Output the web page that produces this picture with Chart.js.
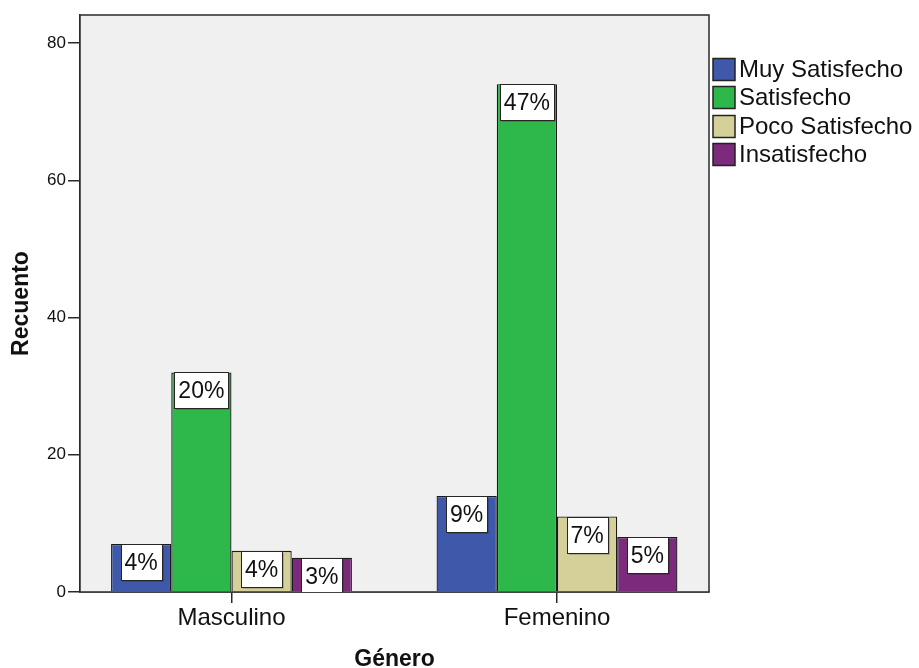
<!DOCTYPE html>
<html>
<head>
<meta charset="utf-8">
<title>Recuento por Género</title>
<script src="https://cdn.jsdelivr.net/npm/chart.js@4/dist/chart.umd.min.js"></script>
<style>
  html, body { margin: 0; padding: 0; background: #ffffff; }
  #wrap { width: 919px; height: 668px; }
</style>
</head>
<body>
<div id="wrap"><canvas id="chart" width="919" height="668"></canvas></div>
<script>
// Categories (x axis) and series
const categories = ['Masculino', 'Femenino'];
const seriesNames = ['Muy Satisfecho', 'Satisfecho', 'Poco Satisfecho', 'Insatisfecho'];

// Counts per category, one array per series
const muySatisfecho  = [7, 14];
const satisfecho     = [32, 74];
const pocoSatisfecho = [6, 11];
const insatisfecho   = [5, 8];

const seriesColors = ['#3f58aa', '#2eb84b', '#d5d09a', '#7c2a7b'];

// Value axis
const yMax = 84.1;
const yStep = 20;

const seriesValues = [muySatisfecho, satisfecho, pocoSatisfecho, insatisfecho];
const grandTotal = seriesValues.flat().reduce((a, b) => a + b, 0);

const FAMILY = "'Liberation Sans', Arial, Helvetica, sans-serif";
const INK = '#111111';
const AXIS = '#2a2a2a';

// Grey plot background and the frame around it
const plotFrame = {
  id: 'plotFrame',
  beforeDatasetsDraw(chart) {
    const { ctx, chartArea: a } = chart;
    ctx.save();
    ctx.fillStyle = '#f0f0f0';
    ctx.fillRect(a.left, a.top, a.right - a.left, a.bottom - a.top);
    ctx.restore();
  },
  afterDatasetsDraw(chart) {
    const { ctx, chartArea: a } = chart;
    ctx.save();
    ctx.strokeStyle = AXIS;
    ctx.lineWidth = 1.5;
    ctx.strokeRect(a.left, a.top, a.right - a.left, a.bottom - a.top);
    ctx.restore();
  }
};

// Percentage-of-total boxes at the top of each bar
const valueLabels = {
  id: 'valueLabels',
  afterDatasetsDraw(chart) {
    const { ctx, chartArea: a } = chart;
    ctx.save();
    ctx.beginPath();
    ctx.rect(a.left, a.top, a.right - a.left, a.bottom - a.top);
    ctx.clip();
    ctx.font = '23px ' + FAMILY;
    ctx.textAlign = 'center';
    ctx.textBaseline = 'middle';
    chart.data.datasets.forEach((ds, i) => {
      chart.getDatasetMeta(i).data.forEach((el, j) => {
        const value = seriesValues[i][j];
        const text = Math.round(value / grandTotal * 100) + '%';
        const w = Math.round(ctx.measureText(text).width + 8);
        const h = 36;
        const x0 = Math.round(el.x - w / 2) + 0.5;
        const y0 = Math.round(el.y) + 0.5;
        // faint drop shadow
        ctx.fillStyle = 'rgba(0,0,0,0.18)';
        ctx.fillRect(x0 + 1.5, y0 + 1.5, w, h);
        ctx.fillStyle = '#ffffff';
        ctx.fillRect(x0, y0, w, h);
        ctx.strokeStyle = '#262626';
        ctx.lineWidth = 1;
        ctx.strokeRect(x0, y0, w, h);
        ctx.fillStyle = INK;
        ctx.fillText(text, el.x, y0 + h / 2 + 1);
      });
    });
    ctx.restore();
  }
};

// Legend to the right of the plot
const sideLegend = {
  id: 'sideLegend',
  afterDraw(chart) {
    const { ctx, chartArea: a } = chart;
    const x = a.right + 4;
    const top = a.top + 43;
    const step = 28.3;
    const box = 22;
    ctx.save();
    ctx.font = '24px ' + FAMILY;
    ctx.textAlign = 'left';
    ctx.textBaseline = 'middle';
    chart.data.datasets.forEach((ds, i) => {
      const y = Math.round(top + i * step) + 0.5;
      ctx.fillStyle = ds.backgroundColor;
      ctx.fillRect(x, y, box, box);
      ctx.strokeStyle = '#222222';
      ctx.lineWidth = 1.5;
      ctx.strokeRect(x, y, box, box);
      ctx.fillStyle = INK;
      ctx.fillText(ds.label, x + box + 4, y + box / 2 + 1);
    });
    ctx.restore();
  }
};

new Chart(document.getElementById('chart'), {
  type: 'bar',
  data: {
    datasets: seriesNames.map((name, i) => ({
      label: name,
      data: seriesValues[i].map((v, j) => ({ x: j, y: v })),
      backgroundColor: seriesColors[i],
      borderColor: '#1a1a1a',
      borderWidth: 1.3,
      categoryPercentage: 0.74,
      barPercentage: 1
    }))
  },
  options: {
    responsive: false,
    animation: false,
    events: [],
    layout: { padding: { top: 15, right: 210, left: 0, bottom: 0 } },
    plugins: {
      legend: { display: false },
      tooltip: { enabled: false }
    },
    scales: {
      x: {
        type: 'linear',
        min: -0.4654,
        max: 1.467,
        offset: false,
        grid: { offset: false, drawOnChartArea: false, drawTicks: true, tickLength: 11, color: AXIS, lineWidth: 1.5 },
        border: { display: true, color: AXIS, width: 1.5 },
        ticks: {
          font: { family: FAMILY, size: 24 },
          color: INK,
          padding: 1,
          maxRotation: 0,
          autoSkip: false,
          callback: (v) => categories[v] !== undefined ? categories[v] : ''
        },
        afterBuildTicks: (axis) => { axis.ticks = categories.map((c, i) => ({ value: i })); },
        afterFit: (axis) => { axis.height = 76; },
        title: {
          display: true,
          text: 'Género',
          font: { family: FAMILY, size: 23, weight: 'bold' },
          color: INK,
          padding: { top: 0, bottom: -5 }
        }
      },
      y: {
        min: 0,
        max: yMax,
        grid: { drawOnChartArea: false, drawTicks: true, tickLength: 12, color: AXIS, lineWidth: 1.5 },
        border: { display: true, color: AXIS, width: 1.5 },
        ticks: {
          stepSize: yStep,
          includeBounds: false,
          font: { family: FAMILY, size: 17 },
          color: INK,
          padding: 2
        },
        afterFit: (axis) => { axis.width = 80; },
        title: {
          display: true,
          text: 'Recuento',
          font: { family: FAMILY, size: 23, weight: 'bold' },
          color: INK,
          padding: { top: 8, bottom: 0 }
        }
      }
    }
  },
  plugins: [plotFrame, valueLabels, sideLegend]
});
</script>
</body>
</html>
